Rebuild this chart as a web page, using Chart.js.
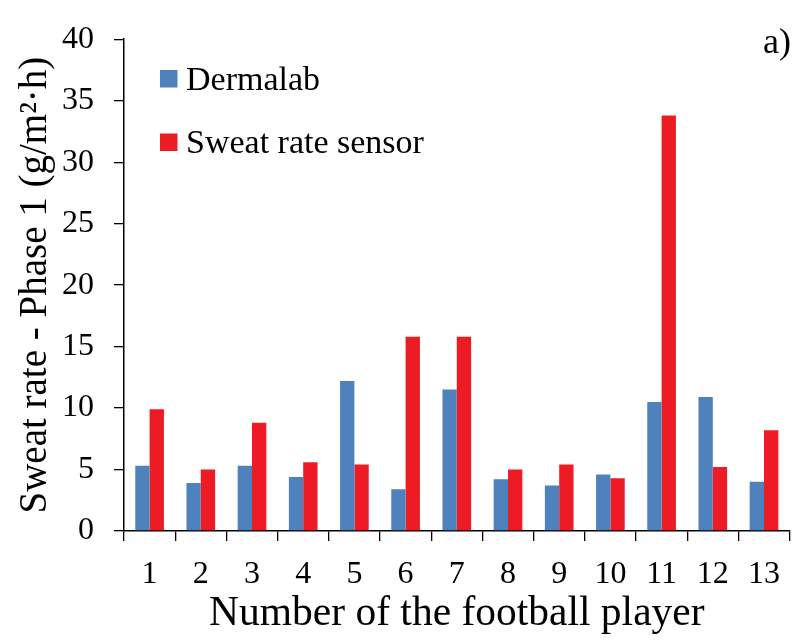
<!DOCTYPE html>
<html>
<head>
<meta charset="utf-8">
<script src="https://cdn.jsdelivr.net/npm/chart.js@4"></script>
<style>
  html, body { margin: 0; padding: 0; background: #fff; }
  #wrap { width: 794px; height: 643px; }
</style>
</head>
<body>
<div id="wrap"><canvas id="c" width="794" height="643"></canvas></div>
<script>
// Football players 1..13
const players = ['1', '2', '3', '4', '5', '6', '7', '8', '9', '10', '11', '12', '13'];
// Sweat rate in phase 1, g/(m²·h)
const dermalab = [5.3, 3.9, 5.3, 4.4, 12.2, 3.4, 11.5, 4.2, 3.7, 4.6, 10.5, 10.9, 4.0];
const sweatSensor = [9.9, 5.0, 8.8, 5.6, 5.4, 15.8, 15.8, 5.0, 5.4, 4.3, 33.8, 5.2, 8.2];
const yTicks = [0, 5, 10, 15, 20, 25, 30, 35, 40];

const SERIF = "'Liberation Serif', serif";
const BLUE = '#4F81BD';
const RED = '#ED1C24';

Chart.defaults.font.family = SERIF;
Chart.defaults.color = '#000';

// Legend boxes and panel letter drawn onto the plot
const legendAndLetter = {
  id: 'legendAndLetter',
  afterDraw(chart) {
    const ctx = chart.ctx;
    ctx.save();
    const rows = [{ y: 70, base: 89.5 }, { y: 133.5, base: 153 }];
    chart.data.datasets.forEach((ds, i) => {
      ctx.fillStyle = ds.backgroundColor;
      ctx.fillRect(160, rows[i].y, 17.5, 17.5);
      ctx.fillStyle = '#000';
      ctx.font = '34px ' + SERIF;
      ctx.textAlign = 'left';
      ctx.textBaseline = 'alphabetic';
      ctx.fillText(ds.label, 186, rows[i].base);
    });
    ctx.font = '36px ' + SERIF;
    ctx.textAlign = 'right';
    ctx.fillText('a)', 791, 53);
    ctx.restore();
  }
};

new Chart(document.getElementById('c'), {
  type: 'bar',
  data: {
    labels: players,
    datasets: [
      { label: 'Dermalab', data: dermalab, backgroundColor: BLUE, borderWidth: 0 },
      { label: 'Sweat rate sensor', data: sweatSensor, backgroundColor: RED, borderWidth: 0 }
    ]
  },
  options: {
    responsive: false,
    animation: false,
    devicePixelRatio: 1,
    layout: { padding: { top: 37, right: 0, left: 0, bottom: 0 } },
    datasets: { bar: { categoryPercentage: 0.56, barPercentage: 1.0 } },
    plugins: { legend: { display: false }, tooltip: { enabled: false } },
    scales: {
      x: {
        grid: { drawOnChartArea: false, drawTicks: true, tickLength: 10, color: '#000', lineWidth: 1.3, offset: true },
        border: { display: true, color: '#000', width: 1.5 },
        ticks: { color: '#000', font: { family: SERIF, size: 32 }, padding: 14, maxRotation: 0, autoSkip: false },
        title: { display: true, text: 'Number of the football player', color: '#000',
                 font: { family: SERIF, size: 41.5 }, padding: { top: 0, bottom: 4 } },
        afterFit(scale) { scale.height = 112; }
      },
      y: {
        min: 0, max: 40,
        afterBuildTicks(scale) { scale.ticks = yTicks.map(v => ({ value: v })); },
        grid: { drawOnChartArea: false, drawTicks: true, tickLength: 10, color: '#000', lineWidth: 1.3 },
        border: { display: true, color: '#000', width: 1.5 },
        ticks: { color: '#000', font: { family: SERIF, size: 32 }, padding: 20 },
        title: { display: true, text: 'Sweat rate - Phase 1 (g/m²·h)', color: '#000',
                 font: { family: SERIF, size: 39 }, padding: { top: 12, bottom: 0 } },
        afterFit(scale) { scale.width = 124; }
      }
    }
  },
  plugins: [legendAndLetter]
});
</script>
</body>
</html>
